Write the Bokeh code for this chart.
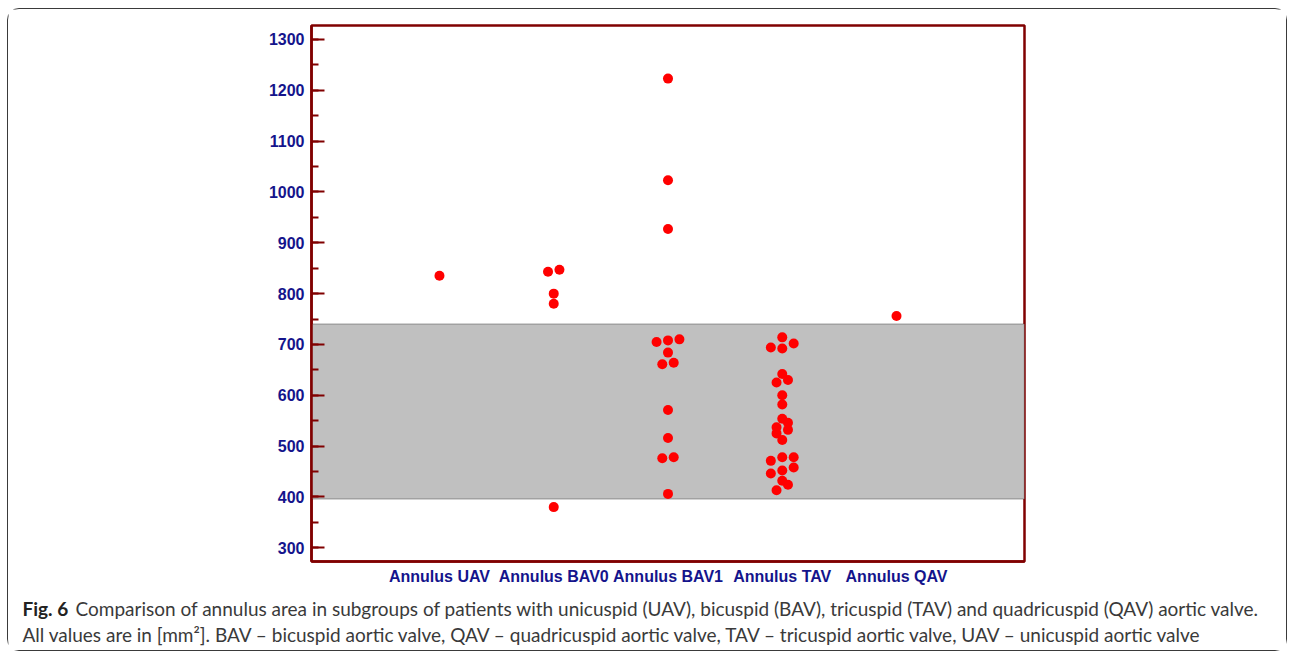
from bokeh.plotting import figure
from bokeh.layouts import column
from bokeh.models import Range1d, FixedTicker, SingleIntervalTicker, BoxAnnotation, Label, ColumnDataSource
from bokeh.embed import file_html
from bokeh.resources import INLINE

# ---- data (annulus area, mm^2) ----
categories = ["Annulus UAV", "Annulus BAV0", "Annulus BAV1", "Annulus TAV", "Annulus QAV"]

uav = [835]
uav_slot = [0]

bav0 = [847, 843, 800, 780, 380]
bav0_slot = [1, -1, 0, 0, 0]

bav1 = [1223, 1023, 927, 710, 708, 705, 684, 664, 661, 571, 516, 478, 476, 406]
bav1_slot = [0, 0, 0, 2, 0, -2, 0, 1, -1, 0, 0, 1, -1, 0]

tav = [714, 702, 694, 692, 642, 630, 625, 600, 582, 554, 546, 537, 532, 525, 512,
       478, 478, 471, 458, 452, 446, 432, 424, 413]
tav_slot = [0, 2, -2, 0, 0, 1, -1, 0, 0, 0, 1, -1, 1, -1, 0,
            0, 2, -2, 2, 0, -2, 0, 1, -1]

qav = [756]
qav_slot = [0]

reference_low = 396
reference_high = 740

caption_bold = "Fig. 6"
caption_line1 = ("Comparison of annulus area in subgroups of patients with unicuspid (UAV), bicuspid (BAV), "
                 "tricuspid (TAV) and quadricuspid (QAV) aortic valve.")
caption_line2 = ("All values are in [mm\u00b2]. BAV \u2013 bicuspid aortic valve, QAV \u2013 quadricuspid aortic valve, "
                 "TAV \u2013 tricuspid aortic valve, UAV \u2013 unicuspid aortic valve")

groups = [uav, bav0, bav1, tav, qav]
slots = [uav_slot, bav0_slot, bav1_slot, tav_slot, qav_slot]
SLOT_STEP = 0.05

xs, ys = [], []
for i, (vals, sl) in enumerate(zip(groups, slots)):
    for v, s in zip(vals, sl):
        xs.append(i + 1 + s * SLOT_STEP)
        ys.append(v)
src = ColumnDataSource(dict(x=xs, y=ys))

NAVY = "#14148c"
AXIS = "#800000"

W = 1278
H1 = 585
H2 = 56

p = figure(width=W, height=H1, output_backend="svg", toolbar_location=None,
           x_range=Range1d(-0.12, 6.12), y_range=Range1d(273, 1327.5),
           min_border_left=303, min_border_right=262, min_border_top=16, min_border_bottom=33)
p.frame_align = False

p.grid.visible = False
p.background_fill_color = "white"
p.border_fill_color = "white"
p.outline_line_color = AXIS
p.outline_line_width = 2.5

# reference band
band = BoxAnnotation(bottom=reference_low, top=reference_high, fill_color="#c0c0c0", fill_alpha=1.0,
                     line_color="#3c3c3c", line_width=1.5, level="underlay")
p.add_layout(band)

p.scatter("x", "y", source=src, size=10, color="#ff0000", line_color=None)

# y axis
ya = p.yaxis[0]
ya.ticker = SingleIntervalTicker(interval=100, num_minor_ticks=2)
ya.axis_line_color = AXIS
ya.axis_line_width = 2.5
ya.major_tick_in = 13
ya.major_tick_out = 0
ya.minor_tick_in = 7
ya.minor_tick_out = 0
ya.major_tick_line_color = AXIS
ya.minor_tick_line_color = AXIS
ya.major_tick_line_width = 2
ya.minor_tick_line_width = 2
ya.major_label_text_color = NAVY
ya.major_label_text_font = "Liberation Sans"
ya.major_label_text_font_size = "16px"
ya.major_label_text_font_style = "bold"
ya.major_label_standoff = 7

# x axis
xa = p.xaxis[0]
xa.ticker = FixedTicker(ticks=[1, 2, 3, 4, 5], minor_ticks=[])
xa.major_label_overrides = {i + 1: c for i, c in enumerate(categories)}
xa.axis_line_color = AXIS
xa.axis_line_width = 2.5
xa.major_tick_line_color = None
xa.minor_tick_line_color = None
xa.major_tick_in = 0
xa.major_tick_out = 0
xa.major_label_text_color = NAVY
xa.major_label_text_font = "Liberation Sans"
xa.major_label_text_font_size = "16px"
xa.major_label_text_font_style = "bold"
xa.major_label_standoff = 6

# caption panel (pixel coordinates, y downward)
cap = figure(width=W, height=H2, output_backend="svg", toolbar_location=None,
             x_range=Range1d(0, W), y_range=Range1d(H2, 0),
             x_axis_location=None, y_axis_location=None,
             min_border=0, min_border_left=0, min_border_right=0, min_border_top=0, min_border_bottom=0)
cap.frame_align = False
cap.grid.visible = False
cap.outline_line_color = None
cap.background_fill_color = "white"
cap.border_fill_color = "white"

CAP_FONT = "Lato"
CAP_SIZE = "19px"
cap.add_layout(Label(x=14, y=14, text=caption_bold, text_font=CAP_FONT, text_font_style="bold",
                     text_font_size=CAP_SIZE, text_color="#222222", text_baseline="alphabetic"))
cap.add_layout(Label(x=67, y=14, text=caption_line1, text_font=CAP_FONT, text_font_size=CAP_SIZE,
                     text_color="#3a3a3a", text_baseline="alphabetic"))
cap.add_layout(Label(x=14, y=40, text=caption_line2, text_font=CAP_FONT, text_font_size=CAP_SIZE,
                     text_color="#3a3a3a", text_baseline="alphabetic"))

layout = column(p, cap, spacing=0,
                styles={"border": "1.5px solid #3a3a3a", "border-radius": "12px",
                        "margin-left": "7px", "margin-top": "8px"})

open("out.html", "w").write(file_html(layout, INLINE))
